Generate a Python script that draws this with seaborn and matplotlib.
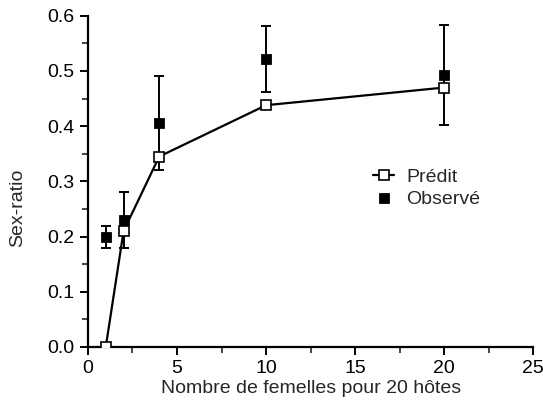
"""
Sex-ratio prédit vs observé selon le nombre de femelles.
"""

import matplotlib.pyplot as plt
import pandas as pd
import seaborn as sns
from matplotlib.ticker import MultipleLocator

# valeurs
femelles = [1, 2, 4, 10, 20]
sex_ratio_predit = [0.0, 0.21, 0.345, 0.438, 0.47]
sex_ratio_observe = [0.20, 0.23, 0.406, 0.522, 0.493]
erreur_observe = [0.02, 0.05, 0.085, 0.06, 0.09]

x_ticks = [0, 5, 10, 15, 20, 25]
y_ticks = [0.0, 0.1, 0.2, 0.3, 0.4, 0.5, 0.6]

sns.set_style("ticks")
plt.rcParams["font.family"] = ["Liberation Sans", "DejaVu Sans"]

df = pd.DataFrame({
    "femelles": femelles,
    "predit": sex_ratio_predit,
    "observe": sex_ratio_observe,
    "err": erreur_observe,
})

fig = plt.figure(figsize=(5.43, 4.16), dpi=100)
ax = fig.add_axes([0.162, 0.166, 0.82, 0.796])

ax.errorbar(df["femelles"], df["observe"], yerr=df["err"], fmt="none",
            ecolor="black", elinewidth=1.4, capsize=3.8, capthick=1.4, zorder=2)
sns.scatterplot(data=df, x="femelles", y="observe", marker="s", s=50,
                color="black", edgecolor="black", ax=ax, zorder=3,
                label="Observé")
sns.lineplot(data=df, x="femelles", y="predit", marker="s", markersize=7.5,
             color="black", linewidth=1.6, markerfacecolor="white",
             markeredgecolor="black", markeredgewidth=1.2, ax=ax, zorder=4,
             label="Prédit")

ax.set_xlim(0, 25)
ax.set_ylim(0, 0.6)
ax.set_xticks(x_ticks)
ax.set_yticks(y_ticks)
ax.set_yticklabels([f"{v:.1f}" for v in y_ticks])
ax.xaxis.set_minor_locator(MultipleLocator(2.5))
ax.yaxis.set_minor_locator(MultipleLocator(0.05))
ax.tick_params(axis="both", which="major", direction="out", length=6,
               width=1.4, labelsize=14, colors="black")
ax.tick_params(axis="both", which="minor", direction="out", length=4, width=1.2)
for side in ["left", "bottom"]:
    ax.spines[side].set_linewidth(1.6)
    ax.spines[side].set_color("black")
sns.despine(ax=ax)

ax.set_xlabel("Nombre de femelles pour 20 hôtes", fontsize=14, labelpad=2)
ax.set_ylabel("Sex-ratio", fontsize=14)
ax.yaxis.set_label_coords(-0.14, 0.42)

handles, labels = ax.get_legend_handles_labels()
order = [labels.index("Prédit"), labels.index("Observé")]
ax.legend([handles[i] for i in order], [labels[i] for i in order],
          loc="center left", bbox_to_anchor=(0.64, 0.48), frameon=False,
          fontsize=14, handlelength=1.1, handletextpad=0.6, labelspacing=0.2,
          borderpad=0, borderaxespad=0)

fig.savefig("out.png", dpi=100)
